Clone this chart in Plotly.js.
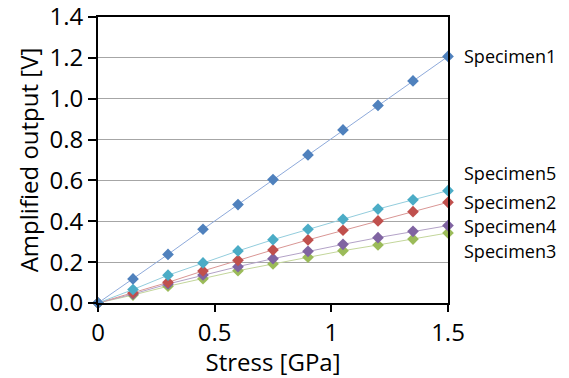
<!DOCTYPE html>
<html>
<head>
<meta charset="utf-8">
<script src="https://cdn.plot.ly/plotly-3.0.1.min.js"></script>
<style>html,body{margin:0;padding:0;background:#fff;}#chart{width:569px;height:378px;}</style>
</head>
<body>
<div id="chart"></div>
<script>
const stress = [0, 0.15, 0.30, 0.45, 0.60, 0.75, 0.90, 1.05, 1.20, 1.35, 1.50];
const specimen1 = [0, 0.118, 0.238, 0.361, 0.482, 0.604, 0.725, 0.847, 0.967, 1.087, 1.207];
const specimen2 = [0, 0.049, 0.101, 0.157, 0.209, 0.260, 0.309, 0.356, 0.402, 0.447, 0.493];
const specimen3 = [0, 0.039, 0.082, 0.119, 0.158, 0.191, 0.224, 0.256, 0.284, 0.313, 0.343];
const specimen4 = [0, 0.044, 0.093, 0.137, 0.178, 0.217, 0.253, 0.287, 0.320, 0.351, 0.379];
const specimen5 = [0, 0.066, 0.136, 0.196, 0.255, 0.310, 0.361, 0.410, 0.460, 0.505, 0.550];
const seriesNames = ["Specimen1", "Specimen2", "Specimen3", "Specimen4", "Specimen5"];
const labelY = [1.208, 0.492, 0.253, 0.375, 0.637];
const xTickVals = [0, 0.5, 1, 1.5];
const xTickText = ["0", "0.5", "1", "1.5"];
const yTickVals = [0, 0.2, 0.4, 0.6, 0.8, 1.0, 1.2, 1.4];
const yTickText = ["0.0", "0.2", "0.4", "0.6", "0.8", "1.0", "1.2", "1.4"];

const seriesData = [specimen1, specimen2, specimen3, specimen4, specimen5];
const markerColors = ["#4F81BD", "#C0504D", "#9BBB59", "#8064A2", "#4BACC6"];
const lineColors = ["#8EAADB", "#D99694", "#C3D69B", "#B3A2C7", "#93CDDD"];

const traces = [];
[2, 3, 1, 4, 0].forEach(i => {
  traces.push({
    x: stress, y: seriesData[i], type: "scatter", mode: "lines+markers",
    name: seriesNames[i],
    line: {color: lineColors[i], width: 1},
    marker: {symbol: "diamond", size: 9, color: markerColors[i]},
    cliponaxis: false
  });
});

const annotations = seriesNames.map((n, i) => ({
  text: n, xref: "paper", yref: "y", x: 1.04, y: labelY[i],
  xanchor: "left", yanchor: "middle", showarrow: false,
  font: {family: "Open Sans, sans-serif", size: 18, color: "#000"}
}));

const layout = {
  width: 569, height: 378,
  margin: {l: 98, r: 121, t: 17, b: 75},
  paper_bgcolor: "#fff", plot_bgcolor: "#fff",
  showlegend: false,
  font: {family: "Open Sans, sans-serif", color: "#000"},
  xaxis: {
    range: [0, 1.5], tickvals: xTickVals, ticktext: xTickText,
    showgrid: false, zeroline: false,
    showline: true, linecolor: "#000", linewidth: 2, mirror: true,
    ticks: "outside", ticklen: 7, tickwidth: 2, tickcolor: "#000",
    tickfont: {size: 24}, ticklabeloverflow: "allow",
    title: {text: "Stress [GPa]", font: {size: 24}, standoff: 6}
  },
  yaxis: {
    range: [0, 1.4], tickvals: yTickVals, ticktext: yTickText,
    showgrid: true, gridcolor: "#A6A6A6", gridwidth: 1, zeroline: false,
    showline: true, linecolor: "#000", linewidth: 2, mirror: true,
    ticks: "outside", ticklen: 8, tickwidth: 2, tickcolor: "#000",
    tickfont: {size: 24}, ticklabeloverflow: "allow",
    title: {text: "Amplified output [V]", font: {size: 24}, standoff: 4}
  },
  annotations: annotations
};

Plotly.newPlot("chart", traces, layout, {displayModeBar: false, staticPlot: true});
</script>
</body>
</html>
